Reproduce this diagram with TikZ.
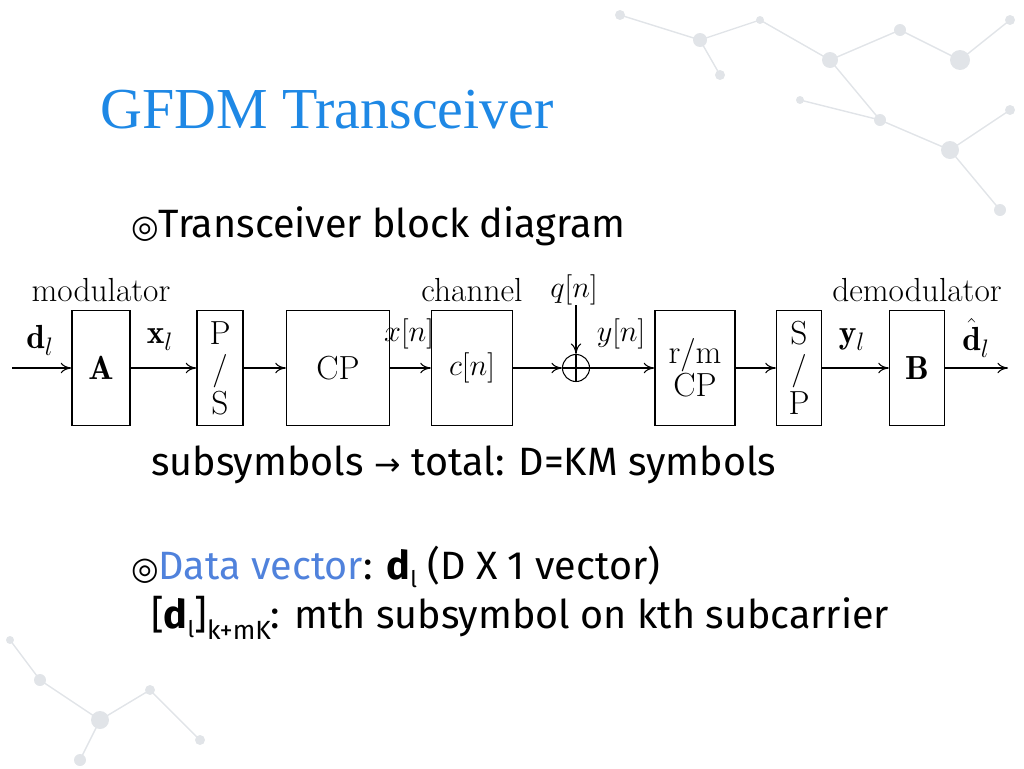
\documentclass[tikz,border=0pt]{standalone}
\usepackage{fontspec}
\usepackage{amsmath}
\newfontfamily\slidefont{Fira Sans}
\newfontfamily\titlefont{Liberation Serif}
\newfontfamily\symfont{DejaVu Sans}
\usetikzlibrary{arrows.meta}
\definecolor{titleblue}{RGB}{30,136,229}
\definecolor{linkblue}{RGB}{80,130,220}
\definecolor{netgray}{RGB}{225,228,232}
\tikzset{
  blockbox/.style={draw, thick, minimum width=#1, minimum height=2.3cm, inner sep=0},
  blockbox/.default=1.1cm,
  sig/.style={-{To[length=6pt,width=6pt]}, semithick},
  dlabel/.style={font=\fontsize{19}{22}\selectfont, inner sep=1pt},
}
\begin{document}
\begin{tikzpicture}[x=0.02cm, y=-0.02cm]
\useasboundingbox (0,0) rectangle (1024,768);
% background network
\foreach \ax/\ay/\bx/\by in {620/15/700/40, 700/40/760/20, 700/40/720/75, 760/20/830/60, 830/60/900/30, 830/60/880/120, 900/30/960/60, 960/60/1010/20, 880/120/950/150, 950/150/1000/210, 950/150/1010/110, 800/100/880/120, 40/680/100/720, 100/720/150/690, 100/720/80/760, 150/690/200/740, 10/640/40/680}{
  \draw[netgray, thick] (\ax,\ay) -- (\bx,\by);
}
\foreach \px/\py/\r in {620/15/5, 700/40/7, 760/20/4, 720/75/5, 830/60/8, 900/30/6, 960/60/10, 1010/20/5, 880/120/6, 950/150/9, 1000/210/6, 1010/110/5, 800/100/4, 40/680/6, 100/720/9, 150/690/5, 80/760/6, 200/740/5, 10/640/4}{
  \fill[netgray] (\px,\py) circle[radius=\r*0.02cm];
}
% slide text
\node[anchor=west, text=titleblue, font=\titlefont\fontsize{33}{37}\selectfont] (title) at (94,110) {GFDM Transceiver};
\node[anchor=west, font=\slidefont\fontsize{22.5}{27}\selectfont] (item1) at (125,226) {{\symfont\fontsize{18}{20}\selectfont ◎}Transceiver block diagram};
\node[anchor=west, font=\slidefont\fontsize{22.5}{27}\selectfont] (item1b) at (145,465) {subsymbols {\symfont\fontsize{18}{20}\selectfont →} total: D=KM symbols};
\node[anchor=west, font=\slidefont\fontsize{22.5}{27}\selectfont] (item2) at (125,567) {{\symfont\fontsize{18}{20}\selectfont ◎}\textcolor{linkblue}{Data vector}: {\bfseries d}\raisebox{-0.4ex}{\fontsize{13}{14}\selectfont l} (D X 1 vector)};
\node[anchor=west, font=\slidefont\fontsize{22.5}{27}\selectfont] (item3) at (145,618) {[{\bfseries d}\raisebox{-0.4ex}{\fontsize{13}{14}\selectfont l}]\raisebox{-0.5ex}{\fontsize{15}{16}\selectfont k+mK}: mth subsymbol on kth subcarrier};
% block diagram
\fill[white] (0,272) rectangle (1024,430);
\coordinate (in) at (12,368);
\node[blockbox=1.16cm] (A) at (101,368) {\fontsize{19}{22}\selectfont$\mathbf{A}$};
\node[blockbox=0.92cm, align=center, font=\fontsize{19}{20}\selectfont] (ps) at (220,368) {P\\/\\S};
\node[blockbox=2.06cm, font=\fontsize{19}{22}\selectfont] (cp) at (338,368) {CP};
\node[blockbox=1.62cm, font=\fontsize{19}{22}\selectfont] (ch) at (472,368) {$c[n]$};
\node[draw, semithick, circle, minimum size=0.54cm, inner sep=0] (sum) at (576,368) {};
\draw[semithick] (sum.north) -- (sum.south) (sum.west) -- (sum.east);
\coordinate (noise) at (576,305);
\node[blockbox=1.6cm, align=center, font=\fontsize{19}{19}\selectfont] (rm) at (695,368) {r/m\\CP};
\node[blockbox=0.9cm, align=center, font=\fontsize{19}{20}\selectfont] (sp) at (799,368) {S\\/\\P};
\node[blockbox=1.1cm] (B) at (917,368) {\fontsize{19}{22}\selectfont$\mathbf{B}$};
\coordinate (out) at (1008,368);
\draw[sig] (in) -- (A);
\draw[sig] (A) -- (ps);
\draw[sig] (ps) -- (cp);
\draw[sig] (cp) -- (ch);
\draw[sig] (ch) -- (sum);
\draw[sig] (noise) -- (sum);
\draw[sig] (sum) -- (rm);
\draw[sig] (rm) -- (sp);
\draw[sig] (sp) -- (B);
\draw[sig] (B) -- (out);
% labels
\node[dlabel] (lmod) at (101,290) {modulator};
\node[dlabel] (lch) at (472,290) {channel};
\node[dlabel] (ldemod) at (917,290) {demodulator};
\node[dlabel] (lq) at (574,290) {$q[n]$};
\node[dlabel] (ld) at (40,340) {$\mathbf{d}_l$};
\node[dlabel] (lx) at (160,340) {$\mathbf{x}_l$};
\node[dlabel] (lxn) at (409,334) {$x[n]$};
\node[dlabel] (lyn) at (621,334) {$y[n]$};
\node[dlabel] (ly) at (852,340) {$\mathbf{y}_l$};
\node[dlabel] (ldh) at (976,338) {$\hat{\mathbf{d}}_l$};
\end{tikzpicture}
\end{document}
